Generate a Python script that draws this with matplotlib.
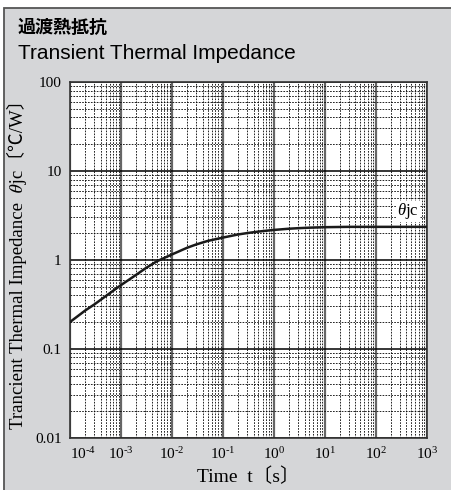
import numpy as np
import matplotlib
matplotlib.use('Agg')
import matplotlib.pyplot as plt
from matplotlib.patches import Rectangle
from matplotlib.ticker import LogLocator, NullFormatter, FixedLocator

# curve (time in s, impedance in degC/W)
t = [1e-4, 2e-4, 3e-4, 5e-4, 1e-3, 2e-3, 3e-3, 5e-3, 1e-2, 2e-2, 3e-2, 5e-2,
     1e-1, 2e-1, 3e-1, 5e-1, 1, 2, 3, 5, 10, 30, 100, 1000]
zth = [0.2, 0.27, 0.315, 0.39, 0.52, 0.68, 0.8, 0.96, 1.15, 1.37, 1.49, 1.63,
       1.78, 1.93, 2.0, 2.08, 2.17, 2.24, 2.27, 2.3, 2.33, 2.35, 2.35, 2.35]

xticks = [1e-4, 1e-3, 1e-2, 1e-1, 1e0, 1e1, 1e2, 1e3]
xlabels = [r'$10^{\text{-}4}$', r'$10^{\text{-}3}$', r'$10^{\text{-}2}$',
           r'$10^{\text{-}1}$', r'$10^{0}$', r'$10^{1}$', r'$10^{2}$',
           r'$10^{3}$']
yticks = [0.01, 0.1, 1, 10, 100]
ylabels = ['0.01', '0.1', '1', '10', '100']

plt.rcParams['mathtext.fontset'] = 'custom'
plt.rcParams['mathtext.rm'] = 'Liberation Serif'
plt.rcParams['mathtext.it'] = 'Liberation Serif:italic'

serif = ['Liberation Serif', 'STIXGeneral', 'Noto Sans CJK JP']
bg = '#d5d6d8'

fig = plt.figure(figsize=(4.51, 4.90), dpi=100)
fig.patch.set_facecolor('white')
panel = Rectangle((4 / 451, -0.01), 1.0, 1 - 8 / 490 + 0.01,
                  transform=fig.transFigure, facecolor=bg,
                  edgecolor='#555555', linewidth=1.3, zorder=-10)
fig.patches.append(panel)

ax = fig.add_axes([70 / 451, 1 - 437.7 / 490, 356.7 / 451, 355.7 / 490])
ax.set_facecolor('white')
ax.set_xscale('log')
ax.set_yscale('log')
ax.set_xlim(1e-4, 1e3)
ax.set_ylim(0.01, 100)

# grid
ax.xaxis.set_minor_locator(LogLocator(base=10, subs=np.arange(2, 10)))
ax.yaxis.set_minor_locator(LogLocator(base=10, subs=np.arange(2, 10)))
ax.xaxis.set_minor_formatter(NullFormatter())
ax.yaxis.set_minor_formatter(NullFormatter())
ax.grid(which='minor', color='black', linestyle=(0, (2, 1.5)), linewidth=0.6)
ax.grid(which='major', axis='x', color='#666666', linestyle='-', linewidth=1.6)
ax.grid(which='major', axis='y', color='black', linestyle='-', linewidth=1.1)
ax.set_axisbelow(True)

ax.plot(t, zth, color='#1a1a1a', linewidth=1.8, zorder=3)
ax.text(430, 3.5, r'$\theta$jc', family=serif, fontsize=12, ha='center',
        va='center', zorder=4,
        bbox=dict(facecolor='white', edgecolor='none', pad=0.5))

ax.xaxis.set_major_locator(FixedLocator(xticks))
ax.yaxis.set_major_locator(FixedLocator(yticks))
ax.set_xticklabels(xlabels, fontsize=11)
ax.set_yticklabels(ylabels, family=serif, fontsize=11)
ax.get_xticklabels()[0].set_horizontalalignment('left')
ax.tick_params(which='both', length=0, pad=6)

for s in ax.spines.values():
    s.set_color('#333333')
    s.set_linewidth(1.2)

ax.set_xlabel('Time  t〔s〕', family=serif, fontsize=14, labelpad=4)
ax.set_ylabel('Trancient Thermal Impedance  𝜃jc〔℃/W〕', family=serif,
              fontsize=13.5, labelpad=6)

fig.text(18 / 451, 1 - 27 / 490, '過渡熱抵抗', family='Noto Sans CJK JP',
         fontweight='bold', fontsize=13, va='center', ha='left')
fig.text(18 / 451, 1 - 59 / 490, 'Transient Thermal Impedance',
         family='Liberation Sans', fontsize=15, va='baseline', ha='left')

fig.savefig('out.png', dpi=100, facecolor=fig.get_facecolor())
